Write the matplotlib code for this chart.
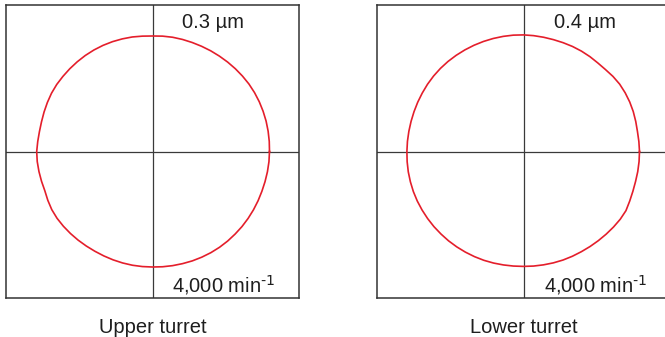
import numpy as np
import matplotlib
matplotlib.use("Agg")
import matplotlib.pyplot as plt

plt.rcParams['font.family'] = ['Liberation Sans', 'DejaVu Sans']
plt.rcParams['mathtext.default'] = 'regular'

# ============================
# DATA (roundness traces, radius every 5 degrees)
# ============================

angles = list(range(0, 360, 5))

upper_radius = [117.0, 117.2, 117.4, 117.6, 117.7, 117.8, 117.8, 117.7, 117.4, 117.1,
                116.8, 116.5, 116.3, 116.1, 116.0, 116.0, 116.0, 115.8, 115.5, 115.8,
                116.3, 116.6, 116.9, 117.1, 117.2, 117.2, 117.1, 117.0, 116.9, 116.9,
                116.6, 116.0, 115.4, 114.9, 114.8, 115.2, 115.8, 115.7, 115.3, 114.9,
                114.6, 115.5, 116.3, 116.5, 116.3, 116.0, 115.7, 115.4, 115.2, 115.2,
                115.3, 115.4, 115.5, 115.5, 115.5, 115.7, 115.9, 116.1, 116.4, 116.6,
                116.8, 116.9, 116.9, 116.8, 116.8, 116.7, 116.6, 116.5, 116.4, 116.5,
                116.7, 116.9]

lower_radius = [116.0, 115.8, 115.7, 116.2, 116.8, 117.2, 117.4, 117.4, 116.8, 115.9,
                115.6, 115.8, 115.9, 115.9, 115.8, 115.8, 116.0, 116.3, 116.6, 116.8,
                116.9, 117.0, 117.1, 117.2, 117.3, 117.4, 117.5, 117.5, 117.4, 117.2,
                116.9, 116.7, 116.5, 116.4, 116.4, 116.5, 116.6, 116.8, 117.0, 117.1,
                117.2, 117.2, 117.1, 117.0, 116.9, 116.7, 116.6, 116.4, 116.2, 116.0,
                115.8, 115.5, 115.2, 115.0, 114.9, 115.0, 115.1, 115.3, 115.5, 115.6,
                115.7, 116.0, 116.4, 116.9, 117.5, 118.1, 118.3, 117.2, 116.4, 116.0,
                116.0, 116.0]

scales = ["0.3 µm", "0.4 µm"]
speeds = [r"4,000 min$^{\text{-1}}$", r"4,000 min$^{\text{-1}}$"]
titles = ["Upper turret", "Lower turret"]

panels = [upper_radius, lower_radius]

# ============================
# FIGURE
# ============================

W, H = 665, 337
fig = plt.figure(figsize=(W / 100, H / 100), dpi=100)

half = 146.5
box_left = [6, 377]
box_top, box_bottom = 5, 298
text_col = "#1e1e1e"

for i, rad in enumerate(panels):
    ax = fig.add_axes([box_left[i] / W, (H - box_bottom) / H,
                       2 * half / W, (box_bottom - box_top) / H])
    ax.set_xlim(-half, half)
    ax.set_ylim(-half, half)
    ax.set_xticks([])
    ax.set_yticks([])
    for s in ax.spines.values():
        s.set_color("#333333")
        s.set_linewidth(1.1)
    ax.axhline(0, color="#3a3a3a", lw=0.9)
    ax.axvline(0, color="#3a3a3a", lw=0.9)

    t = np.deg2rad(np.array(angles + [angles[0]]))
    r = np.array(rad + [rad[0]])
    ax.plot(r * np.cos(t), r * np.sin(t), color="#e41e2b", lw=1.2)

    ax.text(61, 123.5, scales[i], ha="center", va="baseline",
            fontsize=14.5, color=text_col)
    ax.text(20, -140.5, speeds[i], ha="left", va="baseline",
            fontsize=14.5, color=text_col)

    cx = (box_left[i] + half) / W
    fig.text(cx, 4 / H, titles[i], ha="center", va="baseline",
             fontsize=14.5, color=text_col)

fig.savefig("out.png", dpi=100)
